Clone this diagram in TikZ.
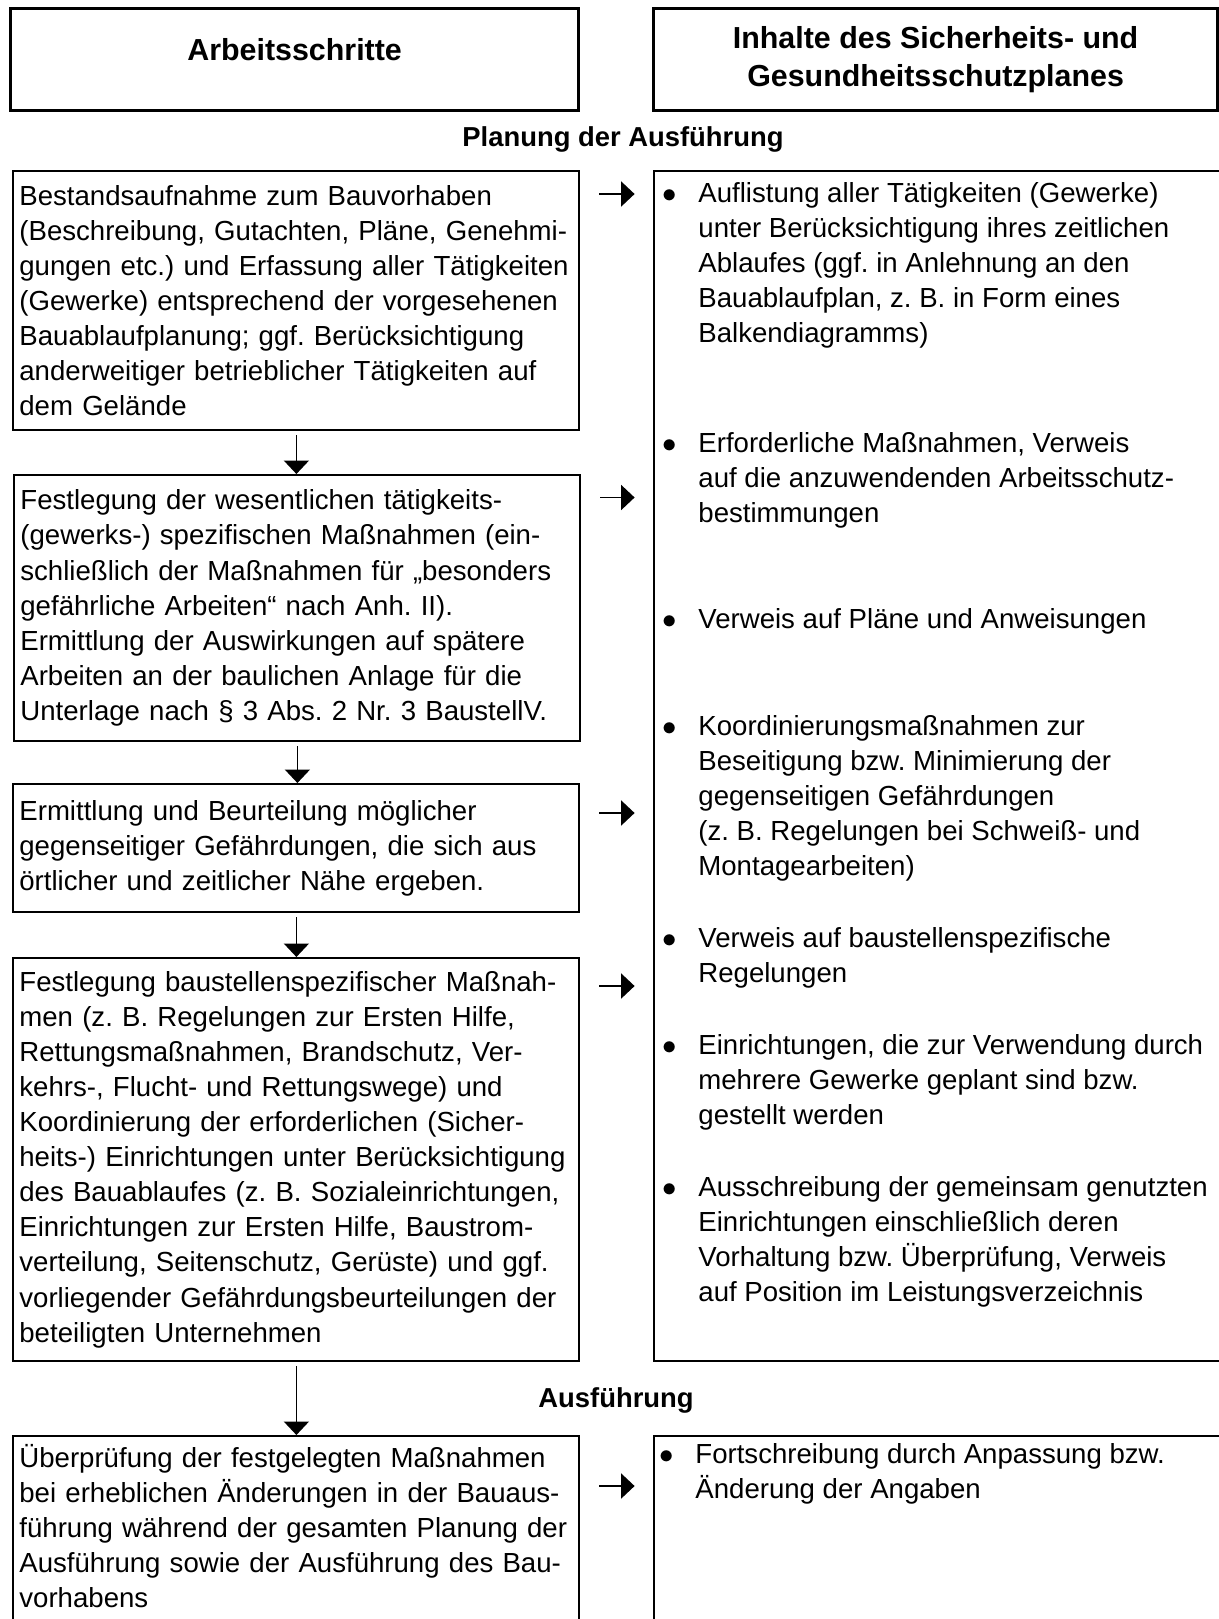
\documentclass[tikz,border=0pt]{standalone}
\usepackage{fontspec}
\setmainfont{Liberation Sans}
\usetikzlibrary{arrows.meta}
\frenchspacing
\newcommand{\steptext}{\fontsize{13.8pt}{17.55pt}\selectfont}
\newcommand{\headtext}{\fontsize{15.2pt}{19.1pt}\selectfont\bfseries}
\newcommand{\phasetext}{\fontsize{13.7pt}{16pt}\selectfont\bfseries}
\newcommand{\bulletlines}[1]{\makebox[18pt][l]{$\bullet$}\begin{tabular}[t]{@{}l@{}}#1\end{tabular}}
\tikzstyle{headbox}=[draw,line width=1.6pt,anchor=north west,inner sep=0pt,align=center,font=\headtext]
\tikzstyle{stepbox}=[draw,line width=1pt,anchor=north west,inner xsep=3pt,inner ysep=0pt,text width=277pt,align=left,font=\steptext]
\tikzstyle{infobox}=[draw,line width=1pt,anchor=north west,inner sep=0pt,minimum width=290pt]
\tikzstyle{bulletitem}=[anchor=base west,inner sep=0pt,font=\steptext]
\tikzstyle{phasetitle}=[anchor=base,inner sep=0pt,font=\phasetext]
\tikzstyle{downedge}=[draw,line width=0.9pt,-{Triangle[length=6.75pt,width=12.5pt]},shorten <=2pt]
\tikzstyle{sideedge}=[draw,line width=0.9pt,-{Triangle[length=6.75pt,width=12.5pt]},shorten <=9.3pt,shorten >=9.2pt]
\begin{document}
\begin{tikzpicture}[x=0.5pt,y=-0.5pt]
    \useasboundingbox (0,0) rectangle (1219,1619);

    % column heads
    \node[headbox,minimum width=284pt,minimum height=50.75pt,text depth=10pt] (hsteps) at (9,7) {Arbeitsschritte};
    \node[headbox,minimum width=282pt,minimum height=50.75pt] (hplan) at (652,7) {Inhalte des Sicherheits- und\\Gesundheitsschutzplanes};

    \node[phasetitle] (planning) at (623,146) {Planung der Ausführung};
    \node[phasetitle] (execution) at (616,1407.5) {Ausführung};

    % working steps
    \node[stepbox,minimum height=129.5pt] (box1) at (12.4,170) {Bestandsaufnahme zum Bauvorhaben\\(Beschreibung, Gutachten, Pläne, Genehmi-\\gungen etc.) und Erfassung aller Tätigkeiten\\(Gewerke) entsprechend der vorgesehenen\\Bauablaufplanung; ggf. Berücksichtigung\\anderweitiger betrieblicher Tätigkeiten auf\\dem Gelände};
    \node[stepbox,minimum height=133pt] (box2) at (13.4,474) {Festlegung der wesentlichen tätigkeits-\\(gewerks-) spezifischen Maßnahmen (ein-\\schließlich der Maßnahmen für „besonders\\gefährliche Arbeiten“ nach Anh. II).\\Ermittlung der Auswirkungen auf spätere\\Arbeiten an der baulichen Anlage für die\\Unterlage nach § 3 Abs. 2 Nr. 3 BaustellV.};
    \node[stepbox,minimum height=64pt] (box3) at (12.4,783) {Ermittlung und Beurteilung möglicher\\gegenseitiger Gefährdungen, die sich aus\\örtlicher und zeitlicher Nähe ergeben.};
    \node[stepbox,minimum height=201.5pt] (box4) at (12.4,957) {Festlegung baustellenspezifischer Maßnah-\\men (z. B. Regelungen zur Ersten Hilfe,\\Rettungsmaßnahmen, Brandschutz, Ver-\\kehrs-, Flucht- und Rettungswege) und\\Koordinierung der erforderlichen (Sicher-\\heits-) Einrichtungen unter Berücksichtigung\\des Bauablaufes (z. B. Sozialeinrichtungen,\\Einrichtungen zur Ersten Hilfe, Baustrom-\\verteilung, Seitenschutz, Gerüste) und ggf.\\vorliegender Gefährdungsbeurteilungen der\\beteiligten Unternehmen};
    \node[stepbox,inner ysep=4pt] (box5) at (12.4,1435) {Überprüfung der festgelegten Maßnahmen\\bei erheblichen Änderungen in der Bauaus-\\führung während der gesamten Planung der\\Ausführung sowie der Ausführung des Bau-\\vorhabens\rule[-25pt]{0pt}{0pt}};

    % contents of the plan
    \node[infobox,minimum height=595pt] (info) at (653,170) {};
    \node[infobox,minimum height=115pt] (update) at (653,1435) {};

    \foreach \ypos/\name/\txt in {202/list/{Auflistung aller Tätigkeiten (Gewerke)\\unter Berücksichtigung ihres zeitlichen\\Ablaufes (ggf. in Anlehnung an den\\Bauablaufplan, z. B. in Form eines\\Balkendiagramms)},
        452/measures/{Erforderliche Maßnahmen, Verweis\\auf die anzuwendenden Arbeitsschutz-\\bestimmungen},
        628/plans/{Verweis auf Pläne und Anweisungen},
        735/coord/{Koordinierungsmaßnahmen zur\\Beseitigung bzw. Minimierung der\\gegenseitigen Gefährdungen\\(z. B. Regelungen bei Schweiß- und\\Montagearbeiten)},
        947/rules/{Verweis auf baustellenspezifische\\Regelungen},
        1054/equip/{Einrichtungen, die zur Verwendung durch\\mehrere Gewerke geplant sind bzw.\\gestellt werden},
        1196/tender/{Ausschreibung der gemeinsam genutzten\\Einrichtungen einschließlich deren\\Vorhaltung bzw. Überprüfung, Verweis\\auf Position im Leistungsverzeichnis}}
        \node[bulletitem] (\name) at (662,\ypos) {\bulletlines{\txt}};

    \node[bulletitem] (revise) at (659,1463) {\bulletlines{Fortschreibung durch Anpassung bzw.\\Änderung der Angaben}};

    % Connect steps with arrows
    \foreach \source/ \dest in {box1/box2, box2/box3, box3/box4, box4/box5}
        \path[downedge] (\source.south) -- (\source.south |- \dest.north);
    \foreach \source/ \dest/ \ypos in {box1/info/194, box2/info/497.5, box3/info/813, box4/info/986, box5/update/1486}
        \path[sideedge] (\source.east |- 0,\ypos) -- (\dest.west |- 0,\ypos);

\end{tikzpicture}
\end{document}
